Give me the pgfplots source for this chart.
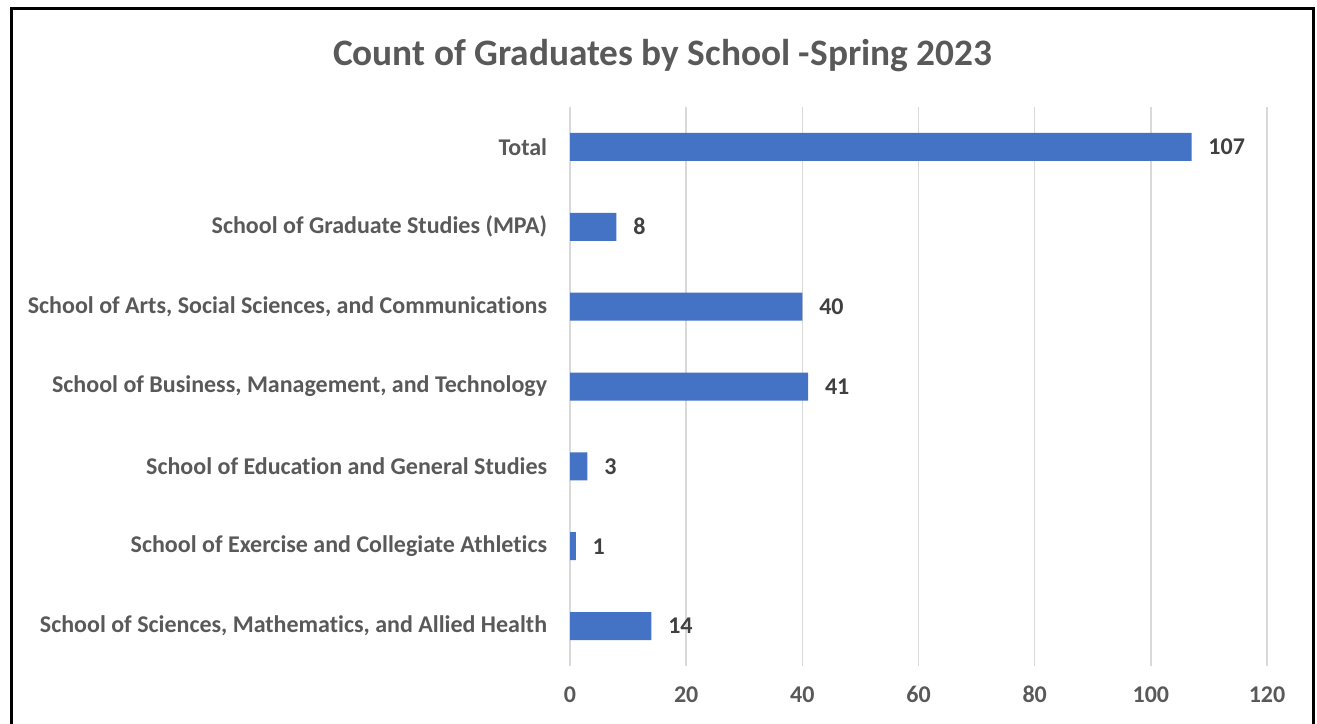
\documentclass[border=0pt]{standalone}
\usepackage{pgfplots}
\pgfplotsset{compat=1.18}
\usepackage{fontspec}
\setmainfont{Carlito}[Ligatures=NoCommon]
\definecolor{barblue}{HTML}{4472C4}
\definecolor{txtgray}{HTML}{595959}
\definecolor{lblgray}{HTML}{404040}
\definecolor{gridgray}{HTML}{D9D9D9}
\begin{document}
\begin{tikzpicture}
% page = 1317 x 724 px at 0.75pt per px
\path[use as bounding box] (0,0) rectangle (987.75pt,543pt);
\draw[line width=2.2pt,black] (8.4pt,-5pt) -- (8.4pt,536.4pt) -- (984.9pt,536.4pt) -- (984.9pt,-5pt);
\node[font=\bfseries\fontsize{28}{32}\selectfont,text=txtgray] at (497pt,501pt) {Count of Graduates by School -Spring 2023};
\begin{axis}[
    at={(427.5pt,43.5pt)}, anchor=south west,
    scale only axis, width=522.75pt, height=419.25pt,
    xbar, bar width=21pt,
    xmin=0, xmax=120, ymin=-0.5, ymax=6.5,
    y dir=reverse,
    xtick={0,20,...,120},
    ytick={0,...,6},
    yticklabels={Total, School of Graduate Studies (MPA), {School of Arts, Social Sciences, and Communications}, {School of Business, Management, and Technology}, School of Education and General Studies, School of Exercise and Collegiate Athletics, {School of Sciences, Mathematics, and Allied Health}},
    xmajorgrids, grid style={gridgray, line width=1.1pt},
    axis line style={draw=none},
    major tick length=0pt,
    /pgf/number format/assume math mode=true,
    ticklabel style={font=\bfseries\fontsize{18}{21}\selectfont, text=txtgray, inner sep=0pt},
    yticklabel style={xshift=-17pt},
    xticklabel style={yshift=-15pt},
    nodes near coords,
    nodes near coords style={font=\bfseries\fontsize{18}{21}\selectfont, text=lblgray, anchor=west, inner sep=0pt, xshift=12.5pt},
]
\addplot[fill=barblue, draw=none] coordinates {
    (107,0) (8,1) (40,2) (41,3) (3,4) (1,5) (14,6)};
\end{axis}
\end{tikzpicture}
\end{document}
